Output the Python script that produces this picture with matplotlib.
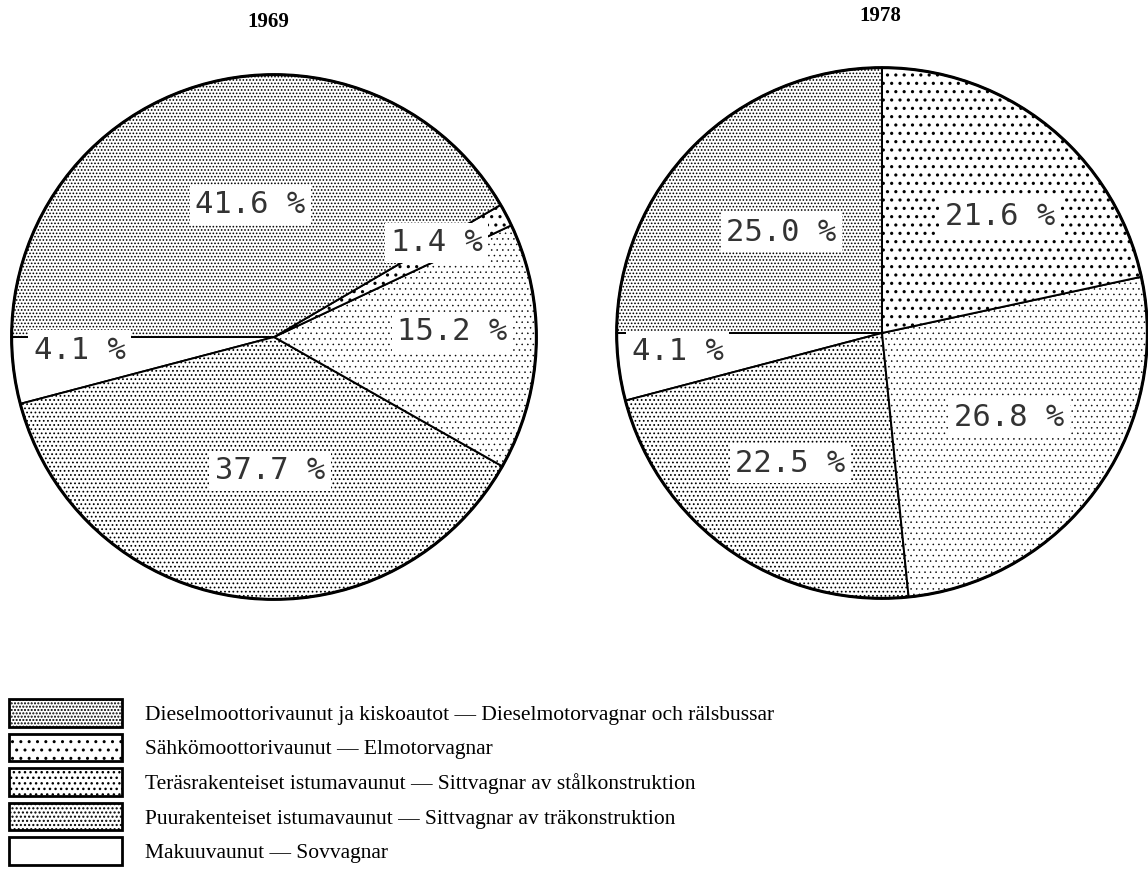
import matplotlib
matplotlib.use("Agg")
import matplotlib.pyplot as plt
from matplotlib.patches import Rectangle, Circle

# categories (legend order)
categories = [
    "Dieselmoottorivaunut ja kiskoautot — Dieselmotorvagnar och rälsbussar",
    "Sähkömoottorivaunut — Elmotorvagnar",
    "Teräsrakenteiset istumavaunut — Sittvagnar av stålkonstruktion",
    "Puurakenteiset istumavaunut — Sittvagnar av träkonstruktion",
    "Makuuvaunut — Sovvagnar",
]
years = ["1969", "1978"]
share_1969 = [41.6, 1.4, 15.2, 37.7, 4.1]
share_1978 = [25.0, 21.6, 26.8, 22.5, 4.1]

# styles per category
hatches = [".....", "..", "...", "....", ""]
hatch_lw = [0.75, 1.1, 0.35, 0.75, 0.5]
# pie drawing order, counter-clockwise from 180 deg: sleeping, wood, steel, electric, diesel
order = [4, 3, 2, 1, 0]

W, H = 1148, 882
fig = plt.figure(figsize=(W / 100, H / 100), dpi=100)

# pie centre / radius in pixels, label offsets in pie units
pies = [
    dict(cx=274, cy=337, r=265, title=(268, 22), vals=share_1969,
         lab=[(-0.09, 0.505), (0.62, 0.36), (0.68, 0.02), (-0.015, -0.51), (-0.74, -0.05)]),
    dict(cx=882, cy=333, r=268, title=(880, 16), vals=share_1978,
         lab=[(-0.38, 0.38), (0.445, 0.44), (0.48, -0.32), (-0.345, -0.49), (-0.77, -0.07)]),
]

for p, yr in zip(pies, years):
    cx, cy, r = p["cx"], p["cy"], p["r"]
    ax = fig.add_axes([(cx - r) / W, (H - cy - r) / H, 2 * r / W, 2 * r / H])
    vals = [p["vals"][i] for i in order]
    wedges, _ = ax.pie(vals, startangle=180, counterclock=True,
                       colors=["white"] * 5,
                       wedgeprops=dict(edgecolor="black", linewidth=1.4))
    for w, i in zip(wedges, order):
        w.set_hatch(hatches[i])
        if hasattr(w, "set_hatch_linewidth"):
            w.set_hatch_linewidth(hatch_lw[i])
    ax.add_patch(Circle((0, 0), 1, fill=False, edgecolor="black", linewidth=2.2, zorder=5))
    for i, (lx, ly) in enumerate(p["lab"]):
        ax.text(lx, ly, f"{p['vals'][i]:.1f} %", ha="center", va="center",
                family="DejaVu Sans Mono", fontsize=22, color="#333333", zorder=6,
                bbox=dict(facecolor="white", edgecolor="none", pad=4))
    ax.set_xlim(-1.01, 1.01)
    ax.set_ylim(-1.01, 1.01)
    ax.axis("off")
    fig.text(p["title"][0] / W, 1 - p["title"][1] / H, yr, ha="center", va="center",
             family="Liberation Serif", fontweight="bold", fontsize=15)

# legend
handles = []
for i in range(5):
    h = Rectangle((0, 0), 1, 1, facecolor="white", edgecolor="black",
                  linewidth=2.0, hatch=hatches[i])
    if hasattr(h, "set_hatch_linewidth"):
        h.set_hatch_linewidth(hatch_lw[i])
    handles.append(h)
fig.legend(handles, categories, loc="upper left", bbox_to_anchor=(9 / W, 1 - 699 / H),
           frameon=False, borderpad=0, borderaxespad=0,
           handlelength=5.25, handleheight=1.6, labelspacing=0.32, handletextpad=1.07,
           prop=dict(family="Liberation Serif", size=15.5))

fig.savefig("out.png", dpi=100)
